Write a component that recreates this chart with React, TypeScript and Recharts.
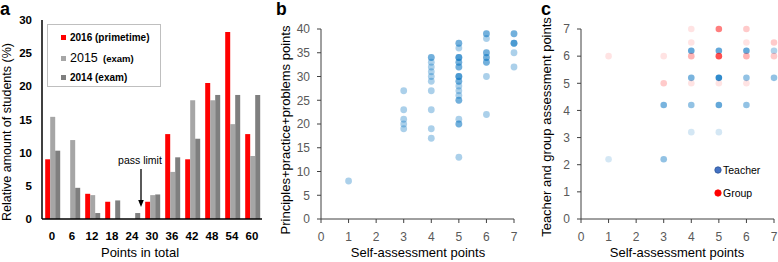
import React from 'react';
import { BarChart, Bar, XAxis, YAxis, ScatterChart, Scatter, Legend } from 'recharts';

const FONT = '"Liberation Sans", Arial, Helvetica, sans-serif';

// ---------- Panel a ----------
const categories = ['0', '6', '12', '18', '24', '30', '36', '42', '48', '54', '60'];
const share2016 = [9.0, 0, 3.8, 2.6, 0, 2.6, 12.8, 9.0, 20.5, 28.2, 12.8];
const share2015 = [15.4, 11.9, 3.6, 0, 0, 3.6, 7.1, 17.9, 17.9, 14.3, 9.5];
const share2014 = [10.3, 4.7, 0.9, 2.8, 0.9, 3.7, 9.3, 12.1, 18.7, 18.7, 18.7];
const seriesKeys = ['s2016', 's2015', 's2014'];
const seriesNames = ['2016 (primetime)', '2015  (exam)', '2014 (exam)'];
const seriesColors = ['#FF0000', '#A6A6A6', '#7F7F7F'];
const ticksA = [0, 5, 10, 15, 20, 25, 30];

// ---------- Panel b ----------
const selfB = [
  1,
  3, 3, 3, 3, 3,
  4, 4, 4, 4, 4, 4, 4, 4, 4, 4, 4,
  5, 5, 5, 5, 5, 5, 5, 5, 5, 5, 5, 5, 5, 5, 5, 5, 5, 5, 5, 5, 5, 5, 5, 5,
  6, 6, 6, 6, 6, 6, 6, 6, 6, 6, 6,
  7, 7, 7, 7, 7, 7, 7,
];
const pointsB = [
  8,
  27, 23, 21, 20, 19,
  34, 34, 33, 32, 31, 30, 29, 27, 23, 19, 17,
  37, 37, 36, 34, 34, 34, 33, 33, 32, 32, 30, 30, 30, 29, 29, 28, 27, 26, 25, 25, 21, 20, 20, 13,
  39, 39, 38, 35, 35, 34, 34, 33, 33, 30, 22,
  39, 39, 37, 37, 37, 35, 32,
];
const ticksSelf = [0, 1, 2, 3, 4, 5, 6, 7];
const ticksB = [0, 5, 10, 15, 20, 25, 30, 35, 40];

// ---------- Panel c ----------
const selfTeacher = [1, 3, 3, 4, 4, 4, 4, 5, 5, 5, 5, 6, 6, 6, 7, 7];
const teacherPts = [2.2, 2.2, 4.2, 3.2, 4.2, 5.2, 6.2, 3.2, 4.2, 5.2, 6.2, 4.2, 5.2, 6.2, 5.2, 6.2];
const teacherCount = [1, 3, 4, 1, 3, 4, 5, 1, 5, 9, 5, 3, 3, 5, 3, 2];
const selfGroup = [1, 3, 3, 4, 4, 4, 4, 5, 5, 5, 6, 6, 6, 6, 7, 7];
const groupPts = [6, 5, 6, 5, 6, 6.5, 7, 5, 6, 7, 5, 6, 6.5, 7, 6, 6.5];
const groupCount = [1, 2, 1, 1, 3, 1, 1, 1, 10, 6, 1, 3, 1, 2, 2, 2];
const ticksC = [0, 1, 2, 3, 4, 5, 6, 7];

// ---------- derived tables ----------
const barData = categories.map((cat, i) => ({
  cat,
  s2016: share2016[i],
  s2015: share2015[i],
  s2014: share2014[i],
}));
const dataB = selfB.map((x, i) => ({ x, y: pointsB[i], n: 1 }));
const dataTeacher = selfTeacher.map((x, i) => ({ x, y: teacherPts[i], n: teacherCount[i] }));
const dataGroup = selfGroup.map((x, i) => ({ x, y: groupPts[i], n: groupCount[i] }));

const makeDot = (color: string, alpha: number, r: number) => (props: any) => {
  const { cx, cy, payload } = props;
  if (cx == null || cy == null) return <g />;
  const n = payload && payload.n ? payload.n : 1;
  const op = 1 - Math.pow(1 - alpha, n);
  return <circle cx={cx} cy={cy} r={r} fill={color} fillOpacity={op} />;
};

const LegendA = () => (
  <div
    style={{
      position: 'relative',
      width: 114,
      height: 63,
      boxSizing: 'border-box',
      border: '1px solid #BFBFBF',
      background: '#fff',
      fontFamily: FONT,
      color: '#000',
    }}
  >
    {seriesNames.map((name, i) => {
      const centers = [12, 33, 52.5];
      const isBig = i === 1;
      const parts = name.split(' ');
      return (
        <div
          key={name}
          style={{
            position: 'absolute',
            left: 13,
            top: centers[i] - 8,
            height: 16,
            display: 'flex',
            alignItems: 'center',
            whiteSpace: 'pre',
          }}
        >
          <span style={{ width: 5, height: 5, background: seriesColors[i], display: 'inline-block', marginRight: 4 }} />
          {isBig ? (
            <span style={{ fontSize: 9.5, fontWeight: 'bold' }}>
              <span style={{ fontSize: 12.5, fontWeight: 'normal' }}>{parts[0]}</span>
              {name.slice(parts[0].length)}
            </span>
          ) : (
            <span style={{ fontSize: 10, fontWeight: 'bold' }}>{name}</span>
          )}
        </div>
      );
    })}
  </div>
);

const LegendC = () => (
  <div style={{ position: 'relative', width: 70, height: 40, fontFamily: FONT, color: '#000', fontSize: 10.5 }}>
    {[
      { label: 'Teacher', fill: '#4472C4', stroke: '#2F5597', c: 10 },
      { label: 'Group', fill: '#FF0000', stroke: '#FF0000', c: 33 },
    ].map((it) => (
      <div key={it.label} style={{ position: 'absolute', left: 4, top: it.c - 7, height: 14, display: 'flex', alignItems: 'center' }}>
        <svg width={8} height={8} style={{ marginRight: 1 }}>
          <circle cx={4} cy={4} r={3.2} fill={it.fill} stroke={it.stroke} strokeWidth={0.8} />
        </svg>
        <span>{it.label}</span>
      </div>
    ))}
  </div>
);

const grayTick = { fontSize: 12, fill: '#595959', fontFamily: FONT };
const axisStroke = '#404040';

export default function App() {
  return (
    <div style={{ position: 'absolute', left: 0, top: 0, width: 778, height: 262, background: '#fff', fontFamily: FONT }}>
      {/* Panel a */}
      <div style={{ position: 'absolute', left: 0, top: 0 }}>
        <BarChart
          width={265}
          height={262}
          data={barData}
          margin={{ top: 20, right: 3, bottom: 0, left: 0 }}
          barGap={0}
          barCategoryGap="16%"
        >
          <XAxis
            dataKey="cat"
            height={43}
            interval={0}
            tickLine={false}
            tickSize={6}
            tickMargin={7}
            axisLine={{ stroke: '#000', strokeWidth: 1.5 }}
            tick={{ fontSize: 11.5, fill: '#000', fontWeight: 'bold', fontFamily: FONT }}
          />
          <YAxis
            width={42}
            domain={[0, 30]}
            ticks={ticksA}
            interval={0}
            tickLine={false}
            tickSize={6}
            tickMargin={4}
            axisLine={{ stroke: '#000', strokeWidth: 1.5 }}
            tick={{ fontSize: 11.5, fill: '#000', fontWeight: 'bold', fontFamily: FONT }}
          />
          {seriesKeys.map((k, i) => (
            <Bar key={k} dataKey={k} name={seriesNames[i]} fill={seriesColors[i]} isAnimationActive={false} />
          ))}
          <Legend
            layout="horizontal"
            verticalAlign="middle"
            align="center"
            wrapperStyle={{ left: 47, top: 24, width: 114, height: 63 }}
            content={() => <LegendA />}
          />
        </BarChart>
      </div>

      {/* Panel b */}
      <div style={{ position: 'absolute', left: 262, top: 0 }}>
        <ScatterChart width={256} height={262} margin={{ top: 29, right: 4, bottom: 0, left: 0 }}>
          <XAxis
            type="number"
            dataKey="x"
            height={43}
            domain={[0, 7]}
            ticks={ticksSelf}
            interval={0}
            tickSize={4}
            tickMargin={9}
            axisLine={{ stroke: axisStroke }}
            tickLine={{ stroke: axisStroke }}
            tick={grayTick}
          />
          <YAxis
            type="number"
            dataKey="y"
            width={59}
            domain={[0, 40]}
            ticks={ticksB}
            interval={0}
            tickSize={4}
            tickMargin={7}
            axisLine={{ stroke: axisStroke }}
            tickLine={{ stroke: axisStroke }}
            tick={grayTick}
          />
          <Scatter data={dataB} isAnimationActive={false} shape={makeDot('#0070C0', 0.33, 3.4)} />
        </ScatterChart>
      </div>

      {/* Panel c */}
      <div style={{ position: 'absolute', left: 520, top: 0 }}>
        <ScatterChart width={258} height={262} margin={{ top: 29, right: 4, bottom: 0, left: 0 }}>
          <XAxis
            type="number"
            dataKey="x"
            height={43}
            domain={[0, 7]}
            ticks={ticksSelf}
            interval={0}
            tickSize={4}
            tickMargin={9}
            axisLine={{ stroke: axisStroke }}
            tickLine={{ stroke: axisStroke }}
            tick={grayTick}
          />
          <YAxis
            type="number"
            dataKey="y"
            width={61}
            domain={[0, 7]}
            ticks={ticksC}
            interval={0}
            tickSize={4}
            tickMargin={7}
            axisLine={{ stroke: axisStroke }}
            tickLine={{ stroke: axisStroke }}
            tick={grayTick}
          />
          <Scatter name="Teacher" data={dataTeacher} isAnimationActive={false} shape={makeDot('#0070C0', 0.17, 3.3)} />
          <Scatter name="Group" data={dataGroup} isAnimationActive={false} shape={makeDot('#FF0000', 0.11, 3.3)} />
          <Legend
            layout="horizontal"
            verticalAlign="middle"
            align="center"
            wrapperStyle={{ left: 190, top: 160, width: 70, height: 40 }}
            content={() => <LegendC />}
          />
        </ScatterChart>
      </div>

      {/* Titles and annotations */}
      <svg
        width={778}
        height={262}
        style={{ position: 'absolute', left: 0, top: 0, pointerEvents: 'none' }}
        fontFamily={FONT}
      >
        <text x={0} y={15} fontSize={18} fontWeight="bold" fill="#000">a</text>
        <text x={276} y={15} fontSize={17.5} fontWeight="bold" fill="#000">b</text>
        <text x={541} y={15} fontSize={18} fontWeight="bold" fill="#000">c</text>

        <text x={11} y={132} fontSize={12.5} fill="#000" textAnchor="middle" transform="rotate(-90, 11, 132)">
          Relative amount of students (%)
        </text>
        <text x={140} y={257} fontSize={13} fill="#000" textAnchor="middle">Points in total</text>

        <text x={290} y={130} fontSize={13} fill="#000" textAnchor="middle" transform="rotate(-90, 290, 130)">
          Principles+practice+problems points
        </text>
        <text x={418} y={257} fontSize={13} fill="#000" textAnchor="middle">Self-assessment points</text>

        <text x={551} y={127} fontSize={13} fill="#000" textAnchor="middle" transform="rotate(-90, 551, 127)">
          Teacher and group assessment points
        </text>
        <text x={677} y={257} fontSize={13} fill="#000" textAnchor="middle">Self-assessment points</text>

        <text x={140} y={164} fontSize={10.5} fill="#000" textAnchor="middle">pass limit</text>
        <line x1={141} y1={169} x2={141} y2={201} stroke="#000" strokeWidth={1.3} />
        <polygon points="138.2,200 143.8,200 141,207" fill="#000" />
      </svg>
    </div>
  );
}
